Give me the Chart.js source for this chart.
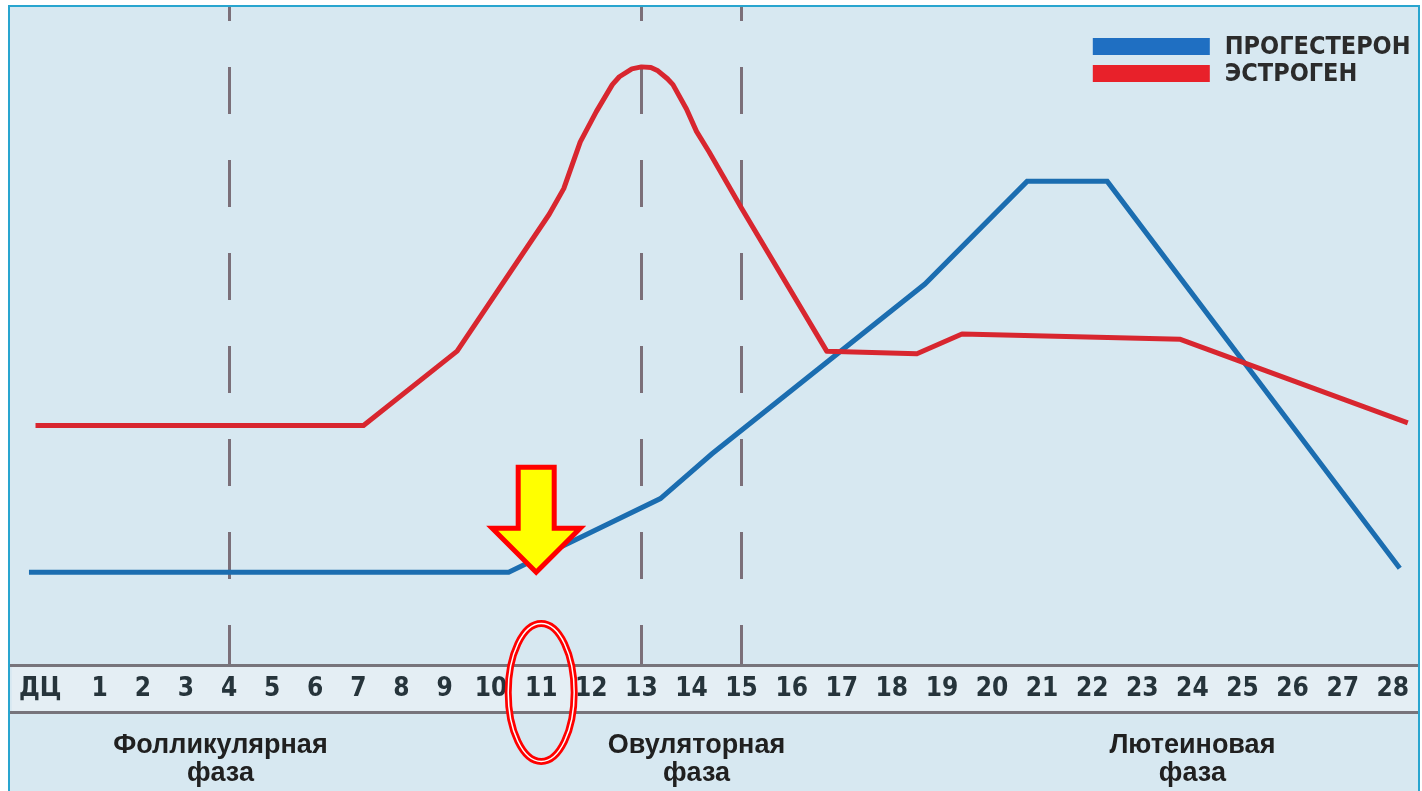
<!DOCTYPE html>
<html lang="ru">
<head>
<meta charset="utf-8">
<title>Прогестерон и эстроген по дням цикла</title>
<script src="https://cdn.jsdelivr.net/npm/chart.js@4.4.1/dist/chart.umd.min.js"></script>
<style>
  html, body { margin: 0; padding: 0; background: #ffffff; }
  #frame {
    position: absolute; left: 8px; top: 5px;
    width: 1408px; height: 800px;
    border: 2px solid #29a5cf;
    background: #d7e8f1;
  }
  canvas { display: block; }
</style>
</head>
<body>
<div id="frame"><canvas id="cycleChart" width="1408" height="784"></canvas></div>
<script>
// axis labels
var dayLabels = ['ДЦ', '1', '2', '3', '4', '5', '6', '7', '8', '9', '10', '11', '12', '13', '14',
                 '15', '16', '17', '18', '19', '20', '21', '22', '23', '24', '25', '26', '27', '28'];
var markerDays = [4, 13, 15];
var phaseDays = [3.8, 14.1, 24];
var phaseLabels = [['Фолликулярная', 'фаза'], ['Овуляторная', 'фаза'], ['Лютеиновая', 'фаза']];

// hormone levels (relative units 0-100)
var progDays   = [-0.19, 10.35, 13.38, 14.41, 18.66, 20.7, 22.3, 28.14];
var progLevels = [14.1, 14.1, 25.3, 32.1, 57.9, 73.5, 73.5, 14.7];
var estrDays   = [-0.08, 7.12, 9.27, 11.16, 11.45, 11.78, 12.1, 12.42, 12.56, 12.81, 13, 13.19, 13.33, 13.52,
                  13.63, 13.9, 14.1, 14.35, 15.0, 16.7, 18.5, 19.4, 23.76, 28.3];
var estrLevels = [36.4, 36.4, 47.7, 68.5, 72.4, 79.5, 84.1, 88.2, 89.4, 90.6, 90.9, 90.8, 90.3, 89.1,
                  88.2, 84.5, 81.1, 78.0, 69.4, 47.7, 47.3, 50.3, 49.5, 36.8];

// the marked day
var arrowDay = 10.9;
var arrowLevel = 14.1;
var circledDay = 11;

function toPoints(xs, ys) {
    var pts = [];
    for (var i = 0; i < xs.length; i++) {
        pts.push({x: xs[i], y: ys[i]});
    }
    return pts;
}

var CONDENSED = '"DejaVu Sans Condensed", "Liberation Sans", sans-serif';
var measureCtx = document.createElement('canvas').getContext('2d');

// day axis where labels are laid out like typed text: wider labels take more room
class FlowScale extends Chart.LinearScale {
    configure() {
        super.configure();
        measureCtx.font = 'bold 26px ' + CONDENSED;
        var gap = 84, headerGap = 25, acc = 0, stops = [0];
        for (var i = 1; i < dayLabels.length; i++) {
            var w0 = measureCtx.measureText(dayLabels[i - 1]).width;
            var w1 = measureCtx.measureText(dayLabels[i]).width;
            acc += gap + (w0 + w1) / 2 + (i === 1 ? headerGap : 0);
            stops.push(acc);
        }
        this._stops = stops;
        this._uMin = this._toUnits(this.min);
        this._uMax = this._toUnits(this.max);
    }
    _toUnits(v) {
        var s = this._stops, n = s.length - 1;
        if (v <= 0) return v * s[1];
        if (v >= n) return s[n] + (v - n) * (s[n] - s[n - 1]);
        var i = Math.floor(v);
        return s[i] + (v - i) * (s[i + 1] - s[i]);
    }
    getPixelForValue(v) {
        return this.getPixelForDecimal((this._toUnits(v) - this._uMin) / (this._uMax - this._uMin));
    }
    getValueForPixel(px) {
        var u = this._uMin + this.getDecimalForPixel(px) * (this._uMax - this._uMin);
        var s = this._stops, n = s.length - 1;
        if (u <= 0) return u / s[1];
        if (u >= s[n]) return n + (u - s[n]) / (s[n] - s[n - 1]);
        for (var i = 0; i < n; i++) {
            if (u <= s[i + 1]) return i + (u - s[i]) / (s[i + 1] - s[i]);
        }
        return n;
    }
}
FlowScale.id = 'flow';
FlowScale.defaults = Chart.LinearScale.defaults;
Chart.register(FlowScale);

var cornerLegend = {
    id: 'cornerLegend',
    afterDatasetsDraw: function(chart) {
        var ctx = chart.ctx;
        var x = chart.chartArea.right - 325;
        var y = chart.chartArea.top + 31;
        ctx.save();
        chart.data.datasets.forEach(function(ds, i) {
            var top = y + i * 27;
            ctx.fillStyle = ds.legendColor;
            ctx.fillRect(x, top, 117, 17);
            ctx.fillStyle = '#2b2b2b';
            ctx.font = 'bold 25px ' + CONDENSED;
            ctx.textBaseline = 'middle';
            ctx.textAlign = 'left';
            ctx.fillText(ds.label, x + 132, top + 9);
        });
        ctx.restore();
    }
};

var markup = {
    id: 'markup',
    afterDraw: function(chart) {
        var ctx = chart.ctx, xs = chart.scales.x, ys = chart.scales.y;
        var tx = xs.getPixelForValue(arrowDay);
        var ty = ys.getPixelForValue(arrowLevel);
        ctx.save();
        ctx.beginPath();
        ctx.moveTo(tx, ty);
        ctx.lineTo(tx - 44, ty - 44);
        ctx.lineTo(tx - 18, ty - 44);
        ctx.lineTo(tx - 18, ty - 105);
        ctx.lineTo(tx + 18, ty - 105);
        ctx.lineTo(tx + 18, ty - 44);
        ctx.lineTo(tx + 44, ty - 44);
        ctx.closePath();
        ctx.fillStyle = '#ffff00';
        ctx.fill();
        ctx.lineWidth = 5;
        ctx.lineJoin = 'miter';
        ctx.strokeStyle = '#ff0000';
        ctx.stroke();

        var cx = xs.getPixelForValue(circledDay);
        var cy = xs.top + xs.height / 2 + 4;
        ctx.beginPath();
        ctx.ellipse(cx, cy, 33, 69, 0, 0, Math.PI * 2);
        ctx.lineWidth = 7;
        ctx.strokeStyle = '#ff0000';
        ctx.stroke();
        ctx.lineWidth = 1.5;
        ctx.strokeStyle = '#ffffff';
        ctx.stroke();
        ctx.restore();
    }
};

var ctx = document.getElementById('cycleChart');
var chart = new Chart(ctx, {
    type: 'line',
    data: {
        datasets: [{
            label: 'ПРОГЕСТЕРОН',
            data: toPoints(progDays, progLevels),
            borderColor: '#1b6db0',
            legendColor: '#1f6fc2',
            borderWidth: 5,
            pointRadius: 0,
            tension: 0,
            order: 1
        }, {
            label: 'ЭСТРОГЕН',
            data: toPoints(estrDays, estrLevels),
            borderColor: '#d8262f',
            legendColor: '#e8212a',
            borderWidth: 5,
            borderJoinStyle: 'round',
            pointRadius: 0,
            tension: 0,
            order: 0
        }]
    },
    options: {
        responsive: false,
        animation: false,
        events: [],
        layout: { padding: 0 },
        plugins: {
            legend: { display: false },
            tooltip: { enabled: false }
        },
        scales: {
            x: {
                type: 'flow',
                position: 'bottom',
                min: -0.48,
                max: 28.5,
                weight: 0,
                backgroundColor: '#e4eef4',
                afterBuildTicks: function(scale) {
                    scale.ticks = dayLabels.map(function(l, i) { return {value: i}; });
                },
                afterFit: function(scale) { scale.height = 47; },
                grid: {
                    drawTicks: false,
                    lineWidth: 3,
                    color: function(c) {
                        return c.tick && markerDays.indexOf(c.tick.value) >= 0 ? '#7b6f79' : 'rgba(0,0,0,0)';
                    }
                },
                border: { display: true, color: '#77747b', width: 3, dash: [47, 46], dashOffset: 33 },
                ticks: {
                    autoSkip: false,
                    maxRotation: 0,
                    minRotation: 0,
                    padding: 9,
                    color: '#26343b',
                    font: { family: CONDENSED, weight: 'bold', size: 26, lineHeight: 1.2 },
                    callback: function(v) { return dayLabels[v]; }
                }
            },
            x2: {
                type: 'flow',
                position: 'bottom',
                min: -0.48,
                max: 28.5,
                weight: 1,
                afterBuildTicks: function(scale) {
                    scale.ticks = phaseDays.map(function(d) { return {value: d}; });
                },
                afterFit: function(scale) { scale.height = 79; },
                grid: { display: false, drawTicks: false },
                border: { display: true, color: '#77747b', width: 3 },
                ticks: {
                    autoSkip: false,
                    maxRotation: 0,
                    minRotation: 0,
                    padding: 19,
                    color: '#202020',
                    font: { family: '"Liberation Sans", Arial, sans-serif', weight: 'bold', size: 27, lineHeight: 1.05 },
                    callback: function(v, i) { return phaseLabels[i]; }
                }
            },
            y: {
                display: false,
                min: 0,
                max: 100
            }
        }
    },
    plugins: [cornerLegend, markup]
});
</script>
</body>
</html>
